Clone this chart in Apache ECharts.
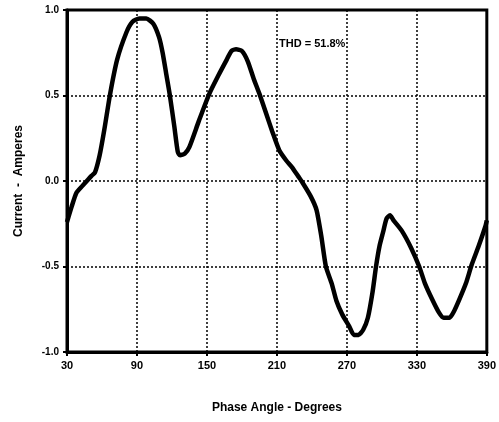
<!DOCTYPE html>
<html>
<head>
<meta charset="utf-8">
<script src="https://cdn.jsdelivr.net/npm/echarts@6/dist/echarts.min.js"></script>
<style>
  html, body { margin: 0; padding: 0; background: #fff; }
  #chart { width: 499px; height: 422px; }
</style>
</head>
<body>
<div id="chart"></div>
<script>
'use strict';
// phase angle (degrees) and line current (amperes)
const angles = [30, 34, 38, 43, 47, 51, 54, 58, 62, 67, 73, 81, 86, 92, 98, 104, 109, 112, 115,
  118, 122, 125, 127, 131, 135, 143, 152, 160, 167, 171, 175, 180, 185, 190, 195, 201, 206, 212, 218,
  223, 228, 232, 239, 244, 248, 252, 257, 261, 266, 272, 276, 280, 284, 288, 292, 295, 298, 301, 304,
  307, 310, 317, 325, 332, 337, 343, 349, 353, 358, 362, 366, 372, 377, 383, 389, 390];
const current = [-0.24, -0.15, -0.07, -0.03, 0.0, 0.03, 0.05, 0.15, 0.30, 0.51, 0.71, 0.87, 0.93, 0.95, 0.95, 0.92, 0.84, 0.75, 0.63,
  0.51, 0.32, 0.17, 0.15, 0.16, 0.2, 0.35, 0.51, 0.62, 0.71, 0.76, 0.77, 0.76, 0.70, 0.6, 0.51, 0.39, 0.29, 0.18, 0.12,
  0.08, 0.03, -0.01, -0.09, -0.17, -0.32, -0.5, -0.6, -0.70, -0.78, -0.85, -0.9, -0.9, -0.87, -0.8, -0.65, -0.5, -0.38, -0.30, -0.22,
  -0.2, -0.23, -0.29, -0.39, -0.5, -0.6, -0.69, -0.77, -0.80, -0.80, -0.76, -0.70, -0.6, -0.49, -0.38, -0.26, -0.23];
const thdLabel = 'THD = 51.8%';

const font = 'Liberation Sans';
const chart = echarts.init(document.getElementById('chart'));

chart.setOption({
  animation: false,
  grid: {left: 67, right: 11, top: 10, bottom: 70, show: true, borderColor: '#000', borderWidth: 3},
  xAxis: {
    type: 'value', min: 30, max: 390, interval: 60,
    name: 'Phase Angle - Degrees', nameLocation: 'middle', nameGap: 50,
    nameTextStyle: {fontFamily: font, fontWeight: 'bold', fontSize: 12, color: '#000'},
    axisLine: {onZero: false, lineStyle: {color: '#000', width: 3}},
    axisTick: {show: true, length: 4, lineStyle: {color: '#000', width: 2}},
    axisLabel: {fontFamily: font, fontWeight: 'bold', fontSize: 11, color: '#000', margin: 8},
    splitLine: {lineStyle: {color: '#000', width: 1.5, type: [2, 2]}}
  },
  yAxis: {
    type: 'value', min: -1, max: 1, interval: 0.5,
    name: 'Current  -  Amperes', nameLocation: 'middle', nameGap: 42,
    nameTextStyle: {fontFamily: font, fontWeight: 'bold', fontSize: 12, color: '#000'},
    axisLine: {onZero: false, lineStyle: {color: '#000', width: 3}},
    axisTick: {show: true, length: 4, lineStyle: {color: '#000', width: 2}},
    axisLabel: {fontFamily: font, fontWeight: 'bold', fontSize: 10, color: '#000', margin: 8,
      formatter: (v) => v.toFixed(1)},
    splitLine: {lineStyle: {color: '#000', width: 1.5, type: [2, 2]}}
  },
  graphic: [{
    type: 'text', left: 279, top: 38,
    style: {text: thdLabel, fontFamily: font, fontWeight: 'bold', fontSize: 11, fill: '#000'}
  }],
  series: [{
    type: 'line',
    data: angles.map((a, i) => [a, current[i]]),
    showSymbol: false,
    smooth: 0.2,
    lineStyle: {color: '#000', width: 4.5}
  }]
});
</script>
</body>
</html>
